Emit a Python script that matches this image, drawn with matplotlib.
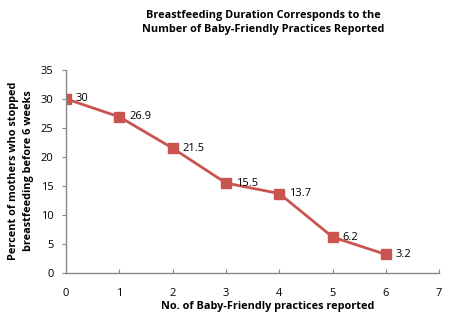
import matplotlib
matplotlib.use("Agg")
import matplotlib.pyplot as plt

practices = [0, 1, 2, 3, 4, 5, 6]
percent_stopped = [30, 26.9, 21.5, 15.5, 13.7, 6.2, 3.2]
point_labels = ["30", "26.9", "21.5", "15.5", "13.7", "6.2", "3.2"]

plt.rcParams['font.family'] = ['Open Sans', 'DejaVu Sans']

fig = plt.figure(figsize=(4.5, 3.22), dpi=100)
ax = fig.add_axes([0.147, 0.152, 0.829, 0.631])

red = '#CA5450'
ax.plot(practices, percent_stopped, color=red, linewidth=2, marker='s',
        markersize=7.5, markerfacecolor=red, markeredgecolor=red)

for x, y, lab in zip(practices, percent_stopped, point_labels):
    ax.annotate(lab, (x, y), xytext=(7, 0), textcoords='offset points',
                ha='left', va='center', fontsize=8, color='black')

ax.set_xlim(0, 7)
ax.set_ylim(0, 35)
ax.set_xticks(range(0, 8))
ax.set_yticks(range(0, 36, 5))
ax.tick_params(axis='x', direction='in', length=3, color='#888888', labelsize=8, pad=11)
ax.tick_params(axis='y', direction='out', length=3, color='#888888', labelsize=8, pad=6)

for s in ['top', 'right']:
    ax.spines[s].set_visible(False)
for s in ['left', 'bottom']:
    ax.spines[s].set_color('#888888')
    ax.spines[s].set_linewidth(1)

fig.text(0.585, 0.93, "Breastfeeding Duration Corresponds to the\nNumber of Baby-Friendly Practices Reported",
         ha='center', va='center', fontsize=7.8, fontweight='bold', linespacing=1.35)
fig.text(0.595, 0.048, "No. of Baby-Friendly practices reported",
         ha='center', va='center', fontsize=7.8, fontweight='bold')
fig.text(0.047, 0.47, "Percent of mothers who stopped\nbreastfeeding before 6 weeks",
         ha='center', va='center', fontsize=7.8, fontweight='bold', rotation=90, linespacing=1.45)

fig.savefig("out.png", dpi=100)
